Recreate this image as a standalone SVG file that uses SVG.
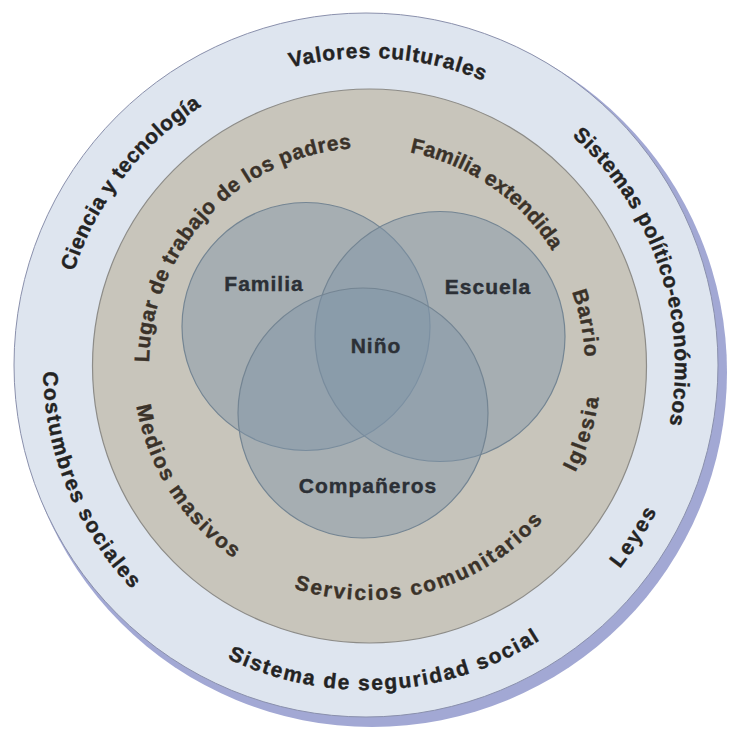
<svg xmlns="http://www.w3.org/2000/svg" xmlns:xlink="http://www.w3.org/1999/xlink" width="730" height="731" viewBox="0 0 730 731">
<defs>
<style>
.lbl{font-family:"Liberation Sans",Arial,sans-serif;font-weight:bold;font-size:21px;stroke-width:0.4px;}
.outer{fill:#232323;stroke:#232323;}
.mid{fill:#3a3229;stroke:#3a3229;}
.venn{fill:#7f95a8;fill-opacity:0.47;stroke:#748593;stroke-width:1.2;}
.vl{font-family:"Liberation Sans",Arial,sans-serif;font-weight:bold;font-size:21px;fill:#2c3036;stroke:#2c3036;stroke-width:0.4px;letter-spacing:1px;text-anchor:middle;}
</style>
<path id="cw308" d="M60.17,339.15 A308,308 0 0 1 673.83,339.15"/>
<path id="ccw324" d="M44.23,394.24 A324,324 0 0 0 689.77,394.24"/>
<path id="cw218" d="M149.83,347 A218,218 0 0 1 584.17,347"/>
<path id="ccw234" d="M133.89,386.4 A234,234 0 0 0 600.11,386.4"/>
</defs>
<rect width="730" height="731" fill="#ffffff"/>
<g id="outer-ring">
<circle cx="372" cy="372" r="355" fill="#a2a8d4"/>
<circle cx="366" cy="365" r="352" fill="#dee5ef" stroke="#8a90ac" stroke-width="1"/>
</g>
<g id="middle-ring">
<circle cx="369.5" cy="366" r="277" fill="#c8c5bb" stroke="#8d8c88" stroke-width="1.2"/>
</g>
<g id="outer-labels" class="lbl outer" text-anchor="middle">
<text id="valores" transform="rotate(4 367 366)" letter-spacing="1"><textPath xlink:href="#cw308" startOffset="50%">Valores culturales</textPath></text>
<text id="ciencia" transform="rotate(-52.3 367 366)" letter-spacing="0.5"><textPath xlink:href="#cw308" startOffset="50%">Ciencia y tecnología</textPath></text>
<text id="sistemas" transform="rotate(71.4 367 366)" letter-spacing="0.6"><textPath xlink:href="#cw308" startOffset="50%">Sistemas político-económicos</textPath></text>
<text id="costumbres" transform="rotate(67.6 367 366)" letter-spacing="1.6"><textPath xlink:href="#ccw324" startOffset="50%">Costumbres sociales</textPath></text>
<text id="seguridad" transform="rotate(-3.5 367 366)" letter-spacing="1.7"><textPath xlink:href="#ccw324" startOffset="50%">Sistema de seguridad social</textPath></text>
<text id="leyes" transform="rotate(-57.5 367 366)" letter-spacing="2.2"><textPath xlink:href="#ccw324" startOffset="50%">Leyes</textPath></text>
</g>
<g id="middle-labels" class="lbl mid" text-anchor="middle">
<text id="lugar" transform="rotate(-46.5 367 366)" letter-spacing="0.6"><textPath xlink:href="#cw218" startOffset="50%">Lugar de trabajo de los padres</textPath></text>
<text id="familia-ext" transform="rotate(34.7 367 366)" letter-spacing="0.1"><textPath xlink:href="#cw218" startOffset="50%">Familia extendida</textPath></text>
<text id="barrio" transform="rotate(79 367 366)" letter-spacing="1"><textPath xlink:href="#cw218" startOffset="50%">Barrio</textPath></text>
<text id="iglesia" transform="rotate(-72.8 367 366)" letter-spacing="2.2"><textPath xlink:href="#ccw234" startOffset="50%">Iglesia</textPath></text>
<text id="servicios" transform="rotate(-15.5 367 366)" letter-spacing="2"><textPath xlink:href="#ccw234" startOffset="50%">Servicios comunitarios</textPath></text>
<text id="medios" transform="rotate(57.2 367 366)" letter-spacing="1.8"><textPath xlink:href="#ccw234" startOffset="50%">Medios masivos</textPath></text>
</g>
<g id="familia">
<circle class="venn" cx="306" cy="326.5" r="124"/>
</g>
<g id="escuela">
<circle class="venn" cx="440" cy="336.5" r="125"/>
</g>
<g id="companeros">
<circle class="venn" cx="363" cy="413" r="125"/>
</g>
<g id="venn-labels">
<text class="vl" x="264" y="291">Familia</text>
<text class="vl" x="488" y="294">Escuela</text>
<text class="vl" x="376" y="353">Niño</text>
<text class="vl" x="368" y="493">Compañeros</text>
</g>
</svg>
